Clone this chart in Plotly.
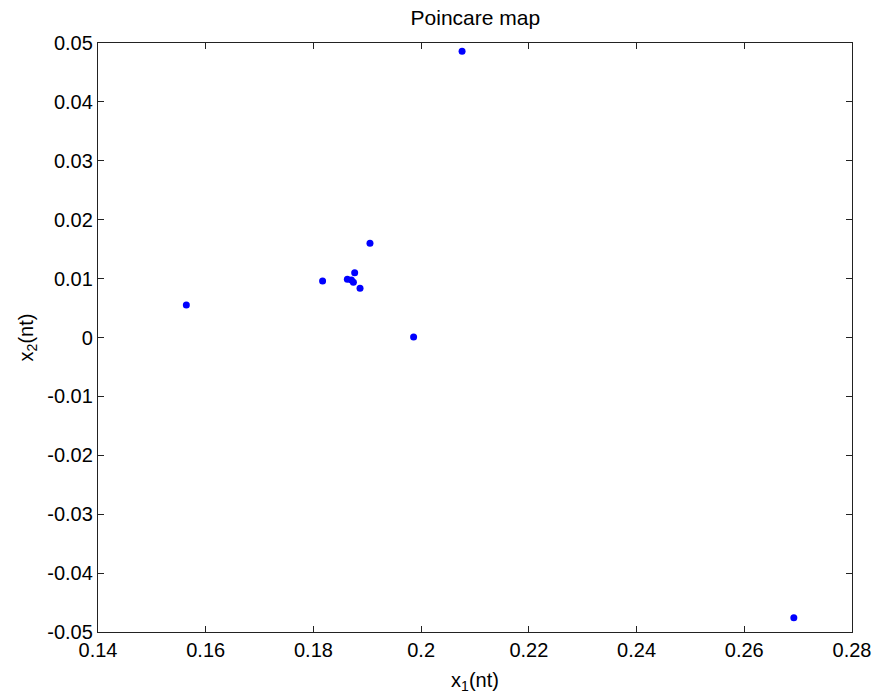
import plotly.graph_objects as go

# Poincare section samples (x1(nt), x2(nt))
x1_nt = [0.2076, 0.1564, 0.1817, 0.1905, 0.18766, 0.1863, 0.18705, 0.18742, 0.18865, 0.1986, 0.2692]
x2_nt = [0.0486, 0.0055, 0.0096, 0.0160, 0.0110, 0.00988, 0.00976, 0.00937, 0.00835, 0.0001, -0.0476]

x_ticks = [0.14, 0.16, 0.18, 0.2, 0.22, 0.24, 0.26, 0.28]
x_tick_text = ["0.14", "0.16", "0.18", "0.2", "0.22", "0.24", "0.26", "0.28"]
y_ticks = [0.05, 0.04, 0.03, 0.02, 0.01, 0, -0.01, -0.02, -0.03, -0.04, -0.05]
y_tick_text = ["0.05", "0.04", "0.03", "0.02", "0.01", "0", "-0.01", "-0.02", "-0.03", "-0.04", "-0.05"]

font_family = "Liberation Sans, Arial, sans-serif"

fig = go.Figure(
    go.Scatter(
        x=x1_nt,
        y=x2_nt,
        mode="markers",
        marker=dict(color="#0000ff", size=7, line=dict(width=0)),
        cliponaxis=True,
        showlegend=False,
    )
)

axis_common = dict(
    showgrid=False,
    zeroline=False,
    showline=True,
    linecolor="#222222",
    linewidth=1.3,
    mirror="ticks",
    ticks="inside",
    ticklen=6,
    tickcolor="#222222",
    tickfont=dict(family=font_family, size=20, color="black"),
    automargin=False,
)

fig.update_layout(
    width=877,
    height=700,
    margin=dict(l=98, r=25, t=43, b=68),
    paper_bgcolor="white",
    plot_bgcolor="white",
    font=dict(family=font_family, color="black"),
    title=dict(
        text="Poincare map",
        x=0.542,
        xanchor="center",
        y=1 - 18 / 700,
        yanchor="middle",
        font=dict(family=font_family, size=21, color="black"),
    ),
    xaxis=dict(
        range=[0.14, 0.28],
        tickvals=x_ticks,
        ticktext=x_tick_text,
        title=dict(text="x<sub>1</sub>(nt)", font=dict(family=font_family, size=20), standoff=12),
        **axis_common,
    ),
    yaxis=dict(
        range=[-0.05, 0.05],
        tickvals=y_ticks,
        ticktext=y_tick_text,
        title=dict(text="x<sub>2</sub>(nt)", font=dict(family=font_family, size=20), standoff=8),
        **axis_common,
    ),
)

fig.write_html("out.html")
